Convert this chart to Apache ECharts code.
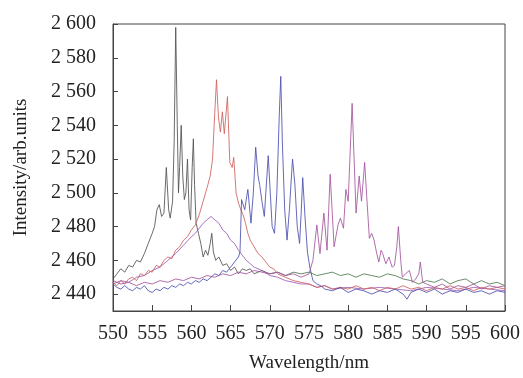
<!DOCTYPE html>
<html>
<head>
<meta charset="utf-8">
<script src="https://cdn.jsdelivr.net/npm/echarts@6/dist/echarts.min.js"></script>
<style>
  html, body { margin: 0; padding: 0; background: #fff; }
  #chart { width: 523px; height: 378px; }
</style>
</head>
<body>
<div id="chart"></div>
<script>
// [wavelength nm, intensity]
const graySpectrum = [
  [550, 2449], [550.5, 2452], [551, 2455], [551.5, 2453], [552, 2457], [552.5, 2456],
  [553, 2460], [553.5, 2459], [554, 2464], [554.5, 2470], [555, 2476], [555.3, 2480],
  [555.6, 2490], [555.9, 2493], [556.2, 2486], [556.5, 2488], [556.8, 2515], [557.1, 2490],
  [557.3, 2485], [557.6, 2495], [557.8, 2530], [558.0, 2598], [558.2, 2540], [558.35, 2500],
  [558.5, 2515], [558.7, 2540], [558.9, 2510], [559.1, 2496], [559.3, 2500], [559.5, 2520],
  [559.7, 2490], [559.9, 2484], [560.1, 2515], [560.25, 2532], [560.4, 2505], [560.6, 2482],
  [560.9, 2476], [561.2, 2470], [561.5, 2462], [561.8, 2466], [562.1, 2463], [562.4, 2470],
  [562.6, 2476], [562.8, 2465], [563.1, 2460], [563.5, 2462], [564, 2457], [564.5, 2458],
  [565, 2454], [565.5, 2456], [566, 2452], [566.5, 2455], [567, 2454], [567.5, 2455],
  [568, 2452], [569, 2454], [570, 2452], [571, 2453], [572, 2451], [573, 2453], [574, 2452],
  [575, 2453], [576, 2451], [577, 2452], [578, 2453], [579, 2451], [580, 2452], [581, 2450],
  [582, 2452], [583, 2451], [584, 2450], [585, 2452], [586, 2451], [587, 2449], [588, 2448],
  [589, 2446], [590, 2448], [591, 2447], [592, 2449], [593, 2446], [594, 2448], [595, 2449],
  [596, 2446], [597, 2448], [598, 2446], [599, 2447], [600, 2445]
];

const redSpectrum = [
  [550, 2447], [550.5, 2445], [551, 2448], [551.5, 2446], [552, 2449], [552.5, 2450],
  [553, 2448], [553.5, 2452], [554, 2451], [554.5, 2454], [555, 2453], [555.5, 2457],
  [556, 2456], [556.5, 2460], [557, 2462], [557.5, 2461], [558, 2466], [558.5, 2468],
  [559, 2472], [559.5, 2474], [560, 2478], [560.5, 2481], [561, 2487], [561.5, 2495],
  [562, 2503], [562.4, 2510], [562.7, 2520], [562.9, 2540], [563.2, 2567], [563.45, 2545],
  [563.7, 2536], [563.95, 2548], [564.2, 2535], [564.6, 2557], [564.9, 2518], [565.2, 2515],
  [565.4, 2521], [565.7, 2500], [566, 2494], [566.3, 2490], [566.6, 2487], [566.9, 2482],
  [567.2, 2476], [567.5, 2472], [568, 2468], [568.5, 2464], [569, 2462], [569.5, 2459],
  [570, 2456], [570.5, 2455], [571, 2452], [572, 2450], [573, 2448], [574, 2447],
  [575, 2446], [576, 2444], [577, 2445], [578, 2443], [579, 2444], [580, 2443], [581, 2445],
  [582, 2443], [583, 2444], [584, 2442], [585, 2444], [586, 2443], [587, 2445], [588, 2443],
  [589, 2444], [590, 2442], [591, 2444], [592, 2443], [593, 2445], [594, 2443], [595, 2444],
  [596, 2442], [597, 2444], [598, 2443], [599, 2444], [600, 2443]
];

const purpleSpectrum = [
  [550, 2446], [551, 2448], [552, 2447], [553, 2450], [554, 2451], [555, 2454], [556, 2456],
  [557, 2460], [558, 2464], [559, 2469], [560, 2474], [560.5, 2476], [561, 2479],
  [561.5, 2482], [562, 2484], [562.5, 2486], [563, 2484], [563.5, 2482], [564, 2478],
  [564.5, 2476], [565, 2472], [565.5, 2470], [566, 2466], [566.5, 2463], [567, 2460],
  [567.5, 2458], [568, 2456], [569, 2454], [570, 2451], [571, 2450], [572, 2448], [573, 2447],
  [574, 2446], [575, 2446], [576, 2444], [577, 2445], [578, 2443], [580, 2444], [582, 2443],
  [584, 2444], [586, 2443], [588, 2442], [590, 2444], [592, 2443], [594, 2442], [596, 2444],
  [598, 2443], [600, 2442]
];

const blueSpectrum = [
  [550, 2446], [550.5, 2444], [551, 2443], [551.5, 2445], [552, 2443], [552.5, 2442],
  [553, 2444], [553.5, 2443], [554, 2445], [554.5, 2442], [555, 2441], [555.5, 2443],
  [556, 2442], [556.5, 2444], [557, 2443], [557.5, 2445], [558, 2444], [558.5, 2446],
  [559, 2445], [559.5, 2447], [560, 2446], [560.5, 2448], [561, 2447], [561.5, 2449],
  [562, 2448], [562.5, 2450], [563, 2452], [563.5, 2451], [564, 2454], [564.5, 2453],
  [565, 2456], [565.5, 2459], [566, 2462], [566.2, 2465], [566.4, 2496], [566.8, 2490],
  [567.2, 2502], [567.6, 2482], [567.9, 2500], [568.2, 2527], [568.5, 2510], [568.7, 2505],
  [569.0, 2495], [569.3, 2486], [569.8, 2522], [570.0, 2505], [570.3, 2480], [570.6, 2476],
  [570.9, 2500], [571.2, 2545], [571.4, 2569], [571.6, 2530], [571.9, 2490], [572.2, 2472],
  [572.5, 2490], [572.9, 2520], [573.2, 2505], [573.5, 2480], [573.8, 2470], [574.0, 2488],
  [574.2, 2509], [574.5, 2485], [574.8, 2465], [575.1, 2456], [575.5, 2448], [576, 2446],
  [576.5, 2445], [577, 2443], [578, 2442], [579, 2444], [580, 2441], [581, 2443], [582, 2442],
  [583, 2440], [584, 2442], [585, 2441], [586, 2443], [587, 2440], [587.5, 2437], [588, 2441],
  [589, 2443], [590, 2441], [591, 2443], [592, 2440], [593, 2442], [594, 2441], [595, 2443],
  [596, 2441], [597, 2442], [598, 2440], [599, 2442], [600, 2441]
];

const magentaSpectrum = [
  [550, 2448], [551, 2446], [552, 2447], [553, 2445], [554, 2447], [555, 2446], [556, 2448],
  [557, 2447], [558, 2449], [559, 2448], [560, 2450], [561, 2449], [562, 2451], [563, 2450],
  [564, 2452], [565, 2451], [566, 2453], [567, 2452], [568, 2454], [569, 2453], [570, 2452],
  [571, 2453], [572, 2451], [573, 2452], [574, 2450], [574.5, 2451], [575, 2452],
  [575.5, 2460], [576.0, 2481], [576.4, 2464], [576.9, 2488], [577.3, 2466], [577.7, 2511],
  [578.2, 2468], [578.7, 2481], [579.0, 2485], [579.4, 2479], [579.7, 2502], [580.0, 2495],
  [580.5, 2553], [581.0, 2488], [581.4, 2510], [581.7, 2495], [582.1, 2518], [582.4, 2495],
  [582.7, 2473], [583.0, 2476], [583.3, 2472], [583.6, 2465], [583.9, 2459], [584.2, 2466],
  [584.4, 2464], [584.8, 2458], [585.2, 2462], [585.6, 2456], [585.9, 2457], [586.2, 2468],
  [586.4, 2480], [586.7, 2460], [586.9, 2450], [587.3, 2452], [587.8, 2454], [588.2, 2447],
  [588.6, 2449], [589.0, 2452], [589.2, 2459], [589.5, 2447], [590, 2446], [591, 2444],
  [592, 2446], [593, 2443], [594, 2445], [595, 2444], [596, 2446], [597, 2443], [598, 2445],
  [599, 2444], [600, 2445]
];

const serif = "'Liberation Serif', 'Times New Roman', serif";

const chart = echarts.init(document.getElementById("chart"), null, { renderer: "canvas" });

const line = (name, data, color) => ({
  name,
  type: "line",
  data,
  showSymbol: false,
  symbol: "none",
  animation: false,
  lineStyle: { width: 1, color, opacity: 0.85 },
  z: 2
});

chart.setOption({
  backgroundColor: "#fff",
  animation: false,
  grid: {
    left: 113,
    right: 17,
    top: 24,
    bottom: 65,
    show: true,
    borderColor: "#444",
    borderWidth: 1
  },
  xAxis: {
    type: "value",
    min: 550,
    max: 600,
    interval: 5,
    name: "Wavelength/nm",
    nameLocation: "middle",
    nameGap: 43,
    nameTextStyle: { fontFamily: serif, fontSize: 19, color: "#222" },
    axisLine: { lineStyle: { color: "#444", width: 1 } },
    axisTick: { inside: true, length: 6, lineStyle: { color: "#444" } },
    axisLabel: { fontFamily: serif, fontSize: 20, color: "#222", margin: 13 },
    splitLine: { show: false }
  },
  yAxis: {
    type: "value",
    min: 2430,
    max: 2600,
    splitNumber: 8,
    name: "Intensity/arb.units",
    nameLocation: "middle",
    nameGap: 82,
    nameTextStyle: { fontFamily: serif, fontSize: 19, color: "#222" },
    axisLine: { lineStyle: { color: "#444", width: 1 } },
    axisTick: { inside: true, length: 5, lineStyle: { color: "#444" } },
    axisLabel: {
      fontFamily: serif,
      fontSize: 20,
      color: "#222",
      margin: 17,
      formatter: (v) => (v % 20 === 0 ? String(v).replace(/^(\d)(\d{3})$/, "$1 $2") : "")
    },
    splitLine: { show: false }
  },
  series: [
    line("gray", graySpectrum, new echarts.graphic.LinearGradient(0, 0, 1, 0, [
      { offset: 0, color: "#505050" },
      { offset: 0.32, color: "#505050" },
      { offset: 0.5, color: "#4f7a4f" },
      { offset: 1, color: "#4f7a4f" }
    ])),
    line("purple", purpleSpectrum, "#9a5cb8"),
    line("red", redSpectrum, "#d0605c"),
    line("blue", blueSpectrum, "#4b4fae"),
    line("magenta", magentaSpectrum, "#a5559e")
  ]
});
</script>
</body>
</html>
